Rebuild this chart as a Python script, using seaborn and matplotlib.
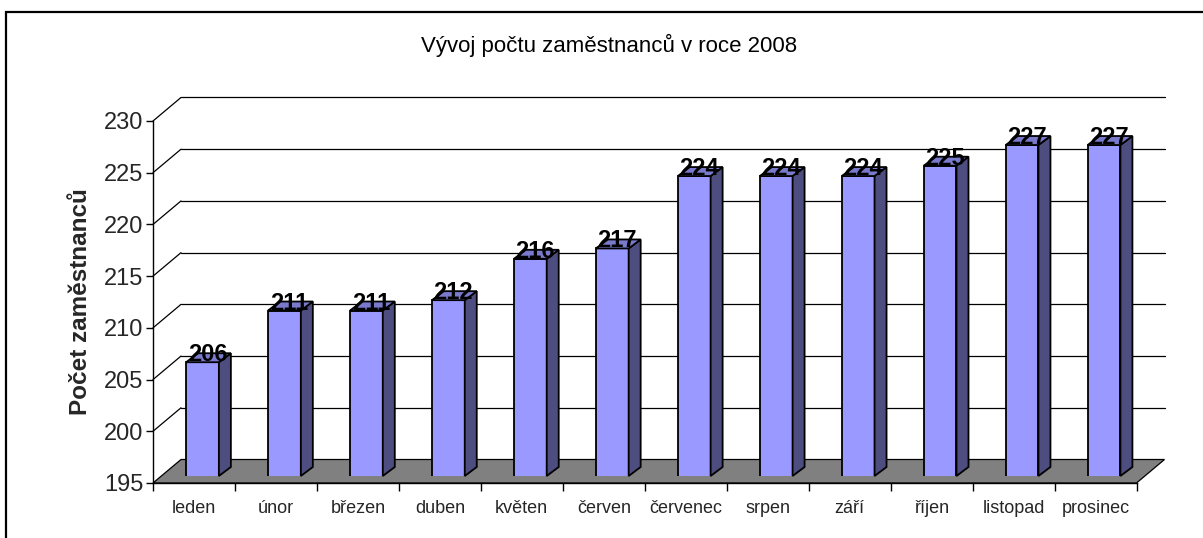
import matplotlib
matplotlib.use("Agg")
import matplotlib.pyplot as plt
import matplotlib.transforms as mtransforms
from matplotlib.patches import Polygon, Rectangle
from matplotlib.lines import Line2D
import seaborn as sns
import pandas as pd

# ---- data ----
months = ["leden", "únor", "březen", "duben", "květen", "červen",
          "červenec", "srpen", "září", "říjen", "listopad", "prosinec"]
employees = [206, 211, 211, 212, 216, 217, 224, 224, 224, 225, 227, 227]
yticks = [195, 200, 205, 210, 215, 220, 225, 230]
title = "Vývoj počtu zaměstnanců v roce 2008"
ylabel = "Počet zaměstnanců"

sns.set_theme(style="white")
plt.rcParams["font.family"] = ["Liberation Sans", "DejaVu Sans"]

W, H = 1203, 538
DPI = 100
fig = plt.figure(figsize=(W / DPI, H / DPI), dpi=DPI)
fig.patch.set_facecolor("white")

# geometry in pixels (image coords, y down)
L, R, T, B = 153, 1136.5, 121, 483
BACK_DX, BACK_DY = 28, 23.5      # back wall offset
BAR_DX, BAR_DY = 8.5, 7          # bar plane offset
SIDE_DX, SIDE_DY = 12, 9         # bar depth

ax = fig.add_axes([L / W, (H - B) / H, (R - L) / W, (B - T) / H])
ax2 = fig.add_axes([(L + BAR_DX) / W, (H - B + BAR_DY) / H, (R - L) / W, (B - T) / H])

ncat = len(months)
for a in (ax, ax2):
    a.set_xlim(-0.5, ncat - 0.5)
    a.set_ylim(yticks[0], yticks[-1])
    a.patch.set_alpha(0)

# front axis styling
for s in ["top", "right"]:
    ax.spines[s].set_visible(False)
for s in ["left", "bottom"]:
    ax.spines[s].set_color("black")
    ax.spines[s].set_linewidth(1.0)
ax.set_yticks(yticks)
ax.set_yticklabels([str(v) for v in yticks], fontsize=17)
ax.set_xticks(range(ncat))
ax.set_xticklabels(months, fontsize=13)
ax.set_xticks([i - 0.5 for i in range(ncat + 1)], minor=True)
ax.tick_params(axis="y", which="major", direction="out", length=5, width=1, color="black", pad=2, left=True)
ax.tick_params(axis="x", which="major", length=0, pad=12)
ax.tick_params(axis="x", which="minor", direction="out", length=6, width=1, color="black", bottom=True)
ax.set_ylabel(ylabel, fontsize=17.5, fontweight="bold")
ax.yaxis.set_label_coords(-0.062, 0.5)
ax.grid(False)

ident = mtransforms.IdentityTransform()
fig.canvas.draw()

def disp(a, x, y):
    return a.transData.transform((x, y))

x0, x1 = -0.5, ncat - 0.5
# floor
fl = disp(ax, x0, yticks[0]); fr = disp(ax, x1, yticks[0])
floor = Polygon([fl, fr, (fr[0] + BACK_DX, fr[1] + BACK_DY), (fl[0] + BACK_DX, fl[1] + BACK_DY)],
                closed=True, facecolor="#808080", edgecolor="black", lw=0.9,
                transform=ident, clip_on=False, zorder=1)
ax.add_artist(floor)
# back wall gridlines and left wall diagonals
for v in yticks[1:]:
    pl = disp(ax, x0, v); pr = disp(ax, x1, v)
    ax.add_artist(Line2D([pl[0] + BACK_DX, pr[0] + BACK_DX], [pl[1] + BACK_DY, pr[1] + BACK_DY],
                         color="black", lw=0.9, transform=ident, clip_on=False, zorder=0.5))
    ax.add_artist(Line2D([pl[0], pl[0] + BACK_DX], [pl[1], pl[1] + BACK_DY],
                         color="black", lw=0.9, transform=ident, clip_on=False, zorder=0.5))

# bars
df = pd.DataFrame({"month": months, "count": employees})
sns.barplot(data=df, x="month", y="count", ax=ax2, color="#9999FF", saturation=1,
            width=0.40, edgecolor="black", linewidth=1.3, zorder=3)
ax2.set_xlim(-0.5, ncat - 0.5)
ax2.set_ylim(yticks[0], yticks[-1])
ax2.axis("off")
fig.canvas.draw()

for p, v in zip(ax2.patches, employees):
    xl, xr = p.get_x(), p.get_x() + p.get_width()
    bl = disp(ax2, xl, yticks[0]); br = disp(ax2, xr, yticks[0])
    tl = disp(ax2, xl, v); tr = disp(ax2, xr, v)
    side = Polygon([br, (br[0] + SIDE_DX, br[1] + SIDE_DY), (tr[0] + SIDE_DX, tr[1] + SIDE_DY), tr],
                   closed=True, facecolor="#4D4D80", edgecolor="black", lw=1.3,
                   transform=ident, clip_on=False, zorder=3)
    top = Polygon([tl, tr, (tr[0] + SIDE_DX, tr[1] + SIDE_DY), (tl[0] + SIDE_DX, tl[1] + SIDE_DY)],
                  closed=True, facecolor="#7A7ACC", edgecolor="black", lw=1.3,
                  transform=ident, clip_on=False, zorder=4)
    ax2.add_artist(side)
    ax2.add_artist(top)
    ax2.annotate(str(v), xy=((xl + xr) / 2, v), xytext=(5, 1), textcoords="offset pixels",
                 ha="center", va="baseline", fontsize=17, fontweight="bold", color="black",
                 annotation_clip=False, zorder=6)

# title
fig.text(609 / W, 1 - 45 / H, title, ha="center", va="center", fontsize=16, color="black")

# outer border (cropped at right/bottom)
fig.add_artist(Rectangle((6 / W, -1.0), 2.0, 1.0 + (H - 12) / H, transform=fig.transFigure,
                         fill=False, edgecolor="black", lw=1.6, clip_on=False))

fig.savefig("out.png", dpi=DPI, facecolor="white")
